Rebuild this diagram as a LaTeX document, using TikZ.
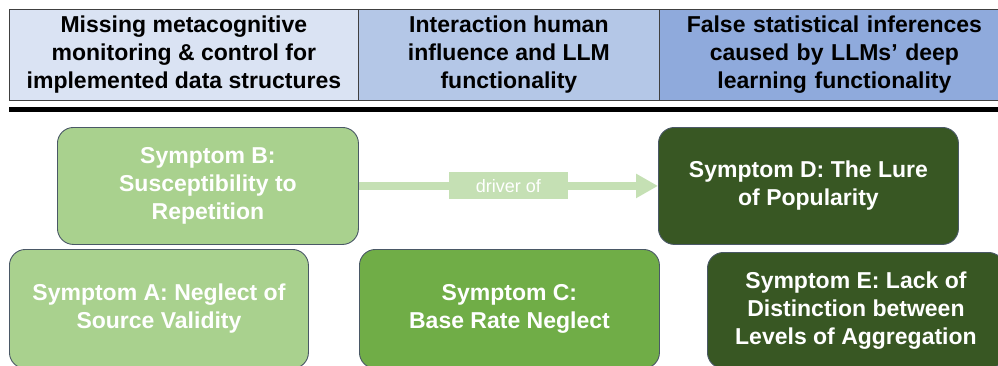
\documentclass[tikz,border=0pt]{standalone}
\usepackage{fontspec}
\setmainfont{Liberation Sans}
\usetikzlibrary{arrows.meta}
\definecolor{hA}{HTML}{DAE3F3}
\definecolor{hB}{HTML}{B4C7E7}
\definecolor{hC}{HTML}{8FAADC}
\definecolor{gLight}{HTML}{A9D18E}
\definecolor{gMid}{HTML}{70AD47}
\definecolor{gDark}{HTML}{385723}
\definecolor{gArrow}{HTML}{C5E0B4}
\definecolor{bordr}{HTML}{4A5866}
\tikzset{
  headbox/.style={draw=black!75, line width=0.8pt, anchor=north west, inner sep=0pt,
    align=center, font=\fontsize{23}{28}\selectfont\bfseries, text=black},
  symbox/.style={draw=bordr, line width=0.9pt, rounded corners=16pt, anchor=north west,
    inner sep=0pt, align=center, font=\fontsize{23}{28}\selectfont\bfseries, text=white},
  drvlabel/.style={fill=gArrow, text=white, inner sep=0pt, minimum width=119pt,
    minimum height=27pt, font=\fontsize{18}{20}\selectfont},
  drvarrow/.style={draw=gArrow, line width=8pt, -{Triangle[length=22pt,width=23pt]}}
}
\begin{document}
\begin{tikzpicture}[x=1pt,y=-1pt]
\useasboundingbox (0,0) rectangle (998,365);
% header
\node[headbox, fill=hA, minimum width=349pt, minimum height=91pt] (h1) at (9,9)
  {Missing metacognitive\\monitoring \& control for\\implemented data structures};
\node[headbox, fill=hB, minimum width=301pt, minimum height=91pt] (h2) at (358,9)
  {Interaction human\\influence and LLM\\functionality};
\node[headbox, fill=hC, minimum width=350pt, minimum height=91pt, text width=339pt] (h3) at (659,9)
  {False statistical inferences\\caused by LLMs’ deep\\learning functionality};
\coordinate (rl) at (9,109.5);
\coordinate (rr) at (1000,109.5);
\draw[line width=5pt] (rl) -- (rr);
% symptom boxes
\node[symbox, fill=gLight, minimum width=301pt, minimum height=117pt] (B) at (57,127)
  {Symptom B:\\Susceptibility to\\Repetition};
\node[symbox, fill=gDark, minimum width=300pt, minimum height=117pt] (D) at (658,127)
  {Symptom D: The Lure\\of Popularity};
\node[symbox, fill=gLight, minimum width=299pt, minimum height=119pt] (A) at (9,249)
  {Symptom A: Neglect of\\Source Validity};
\node[symbox, fill=gMid, minimum width=300pt, minimum height=119pt] (C) at (359,249)
  {Symptom C:\\Base Rate Neglect};
\node[symbox, fill=gDark, minimum width=297pt, minimum height=116pt] (E) at (707,252)
  {Symptom E: Lack of\\Distinction between\\Levels of Aggregation};
% connector
\draw[drvarrow] (B.east) -- node[drvlabel] (lbl) {driver of} (D.west);
\end{tikzpicture}
\end{document}
